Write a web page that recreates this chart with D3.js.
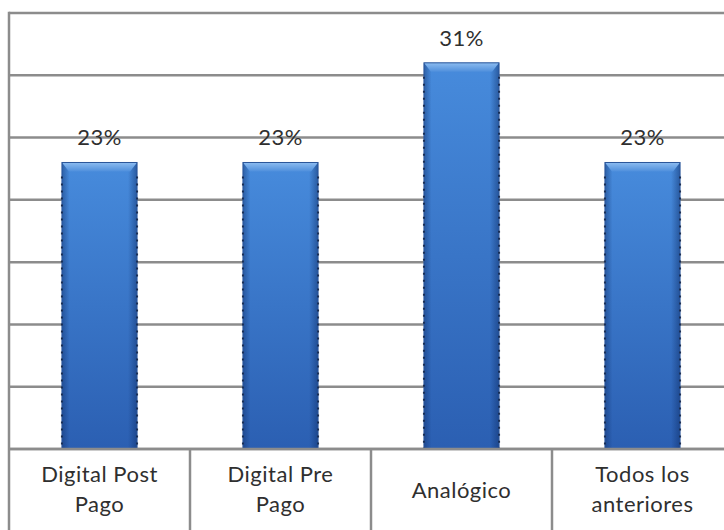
<!DOCTYPE html>
<html>
<head>
<meta charset="utf-8">
<script src="https://cdn.jsdelivr.net/npm/d3@7"></script>
<style>
  html, body { margin: 0; padding: 0; background: #fff; }
  svg { display: block; }
  text { font-family: Lato, "Open Sans", sans-serif; fill: #2f2f2f; letter-spacing: 0.5px; }
</style>
</head>
<body>
<svg id="chart" width="724" height="530"></svg>
<script>
// Chart data
const categories = [["Digital Post", "Pago"], ["Digital Pre", "Pago"], ["Analógico"], ["Todos los", "anteriores"]];
const values = [0.23, 0.23, 0.31, 0.23];
const valueLabels = ["23%", "23%", "31%", "23%"];
const yTicks = [0, 0.05, 0.10, 0.15, 0.20, 0.25, 0.30, 0.35];

const svg = d3.select("#chart");
const plotLeft = 9, plotTop = 13, axisY = 449, plotBottom = 530;
const step = 181;

const x = d3.scaleBand()
  .domain(d3.range(categories.length))
  .range([plotLeft, plotLeft + step * categories.length])
  .paddingInner(0.585)
  .paddingOuter(0.2925);

const y = d3.scaleLinear().domain([0, 0.35]).range([axisY, plotTop]);

// Gradients for the bevelled bars
const defs = svg.append("defs");
const vg = defs.append("linearGradient").attr("id", "barV").attr("x1", 0).attr("y1", 0).attr("x2", 0).attr("y2", 1);
vg.append("stop").attr("offset", "0%").attr("stop-color", "#478bdc");
vg.append("stop").attr("offset", "100%").attr("stop-color", "#2b5fb2");
const hg = defs.append("linearGradient").attr("id", "barH").attr("x1", 0).attr("y1", 0).attr("x2", 1).attr("y2", 0);
hg.append("stop").attr("offset", "0%").attr("stop-color", "#0d2c66").attr("stop-opacity", 0.45);
hg.append("stop").attr("offset", "10%").attr("stop-color", "#0d2c66").attr("stop-opacity", 0);
hg.append("stop").attr("offset", "88%").attr("stop-color", "#0d2c66").attr("stop-opacity", 0);
hg.append("stop").attr("offset", "100%").attr("stop-color", "#0d2c66").attr("stop-opacity", 0.5);
const tg = defs.append("linearGradient").attr("id", "barTop").attr("x1", 0).attr("y1", 0).attr("x2", 0).attr("y2", 1);
tg.append("stop").attr("offset", "0%").attr("stop-color", "#8cbcf0");
tg.append("stop").attr("offset", "100%").attr("stop-color", "#4f8fdc");

// Gridlines
svg.append("g").selectAll("line").data(yTicks).join("line")
  .attr("x1", plotLeft).attr("x2", 724)
  .attr("y1", d => y(d)).attr("y2", d => y(d))
  .attr("stroke", "#8c8c8c").attr("stroke-width", 2.5);

// Left border and category dividers
const dividers = d3.range(categories.length + 1).map(i => plotLeft + step * i);
svg.append("line").attr("x1", plotLeft).attr("x2", plotLeft).attr("y1", plotTop - 1.25).attr("y2", plotBottom)
  .attr("stroke", "#8c8c8c").attr("stroke-width", 2.5);
svg.append("g").selectAll("line").data(dividers.slice(1)).join("line")
  .attr("x1", d => d).attr("x2", d => d).attr("y1", axisY).attr("y2", plotBottom)
  .attr("stroke", "#8c8c8c").attr("stroke-width", 2.5);

// Bars
const bars = svg.append("g").selectAll("g").data(values).join("g");
bars.append("rect")
  .attr("x", (d, i) => x(i)).attr("width", x.bandwidth())
  .attr("y", d => y(d)).attr("height", d => axisY - y(d))
  .attr("fill", "url(#barV)");
bars.append("rect")
  .attr("x", (d, i) => x(i)).attr("width", x.bandwidth())
  .attr("y", d => y(d)).attr("height", d => axisY - y(d))
  .attr("fill", "url(#barH)");
bars.append("path")
  .attr("d", (d, i) => {
    const x0 = x(i), x1 = x(i) + x.bandwidth(), y0 = y(d);
    return `M${x0},${y0}L${x1},${y0}L${x1 - 7},${y0 + 9}L${x0 + 7},${y0 + 9}Z`;
  })
  .attr("fill", "url(#barTop)");
bars.append("rect")
  .attr("x", (d, i) => x(i)).attr("width", x.bandwidth())
  .attr("y", d => y(d)).attr("height", d => axisY - y(d))
  .attr("fill", "none").attr("stroke", "#2a5599").attr("stroke-width", 1);
// dotted side edges
bars.selectAll("line.edge").data((d, i) => [[x(i), d], [x(i) + x.bandwidth(), d]]).join("line")
  .attr("class", "edge")
  .attr("x1", e => e[0]).attr("x2", e => e[0])
  .attr("y1", e => y(e[1]) + 14).attr("y2", axisY)
  .attr("stroke", "#1a2f55").attr("stroke-width", 2).attr("stroke-dasharray", "2,5");

// Redraw the axis line over the bar bottoms
svg.append("line").attr("x1", plotLeft).attr("x2", 724).attr("y1", axisY).attr("y2", axisY)
  .attr("stroke", "#8c8c8c").attr("stroke-width", 2.5);

// Value labels
svg.append("g").selectAll("text").data(values).join("text")
  .attr("x", (d, i) => x(i) + x.bandwidth() / 2)
  .attr("y", d => y(d) - 17)
  .attr("text-anchor", "middle")
  .attr("font-size", 22)
  .text((d, i) => valueLabels[i]);

// Category labels
const catG = svg.append("g").selectAll("text").data(categories).join("text")
  .attr("text-anchor", "middle")
  .attr("font-size", 22)
  .attr("x", (d, i) => x(i) + x.bandwidth() / 2)
  .attr("y", d => d.length === 1 ? 498 : 482);
catG.selectAll("tspan").data(d => d).join("tspan")
  .attr("x", function () { return d3.select(this.parentNode).attr("x"); })
  .attr("dy", (d, j) => j === 0 ? 0 : 30)
  .text(d => d);
</script>
</body>
</html>
